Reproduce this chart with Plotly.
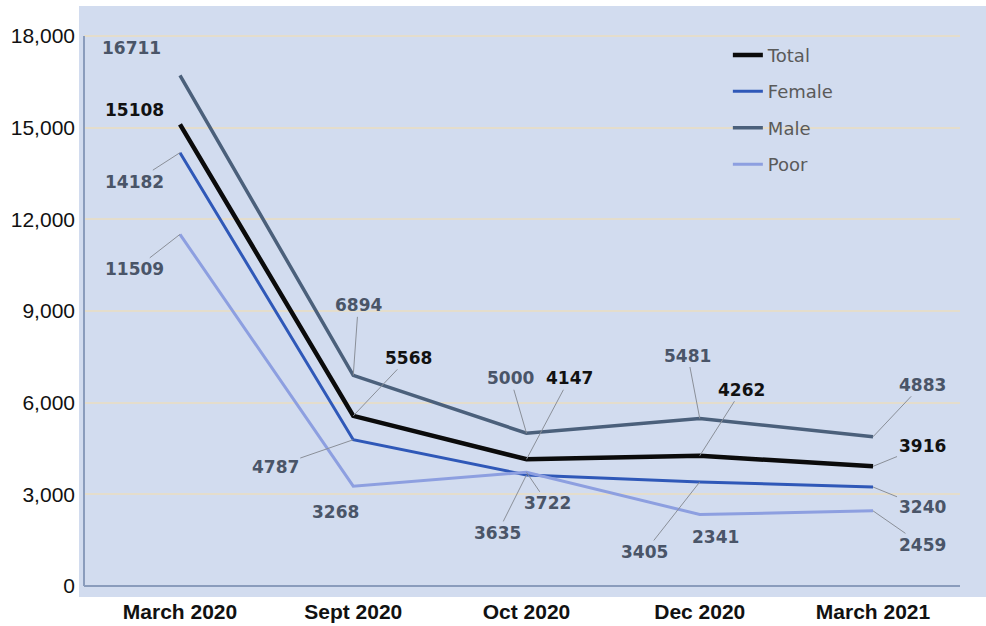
import plotly.graph_objects as go

categories = ["March 2020", "Sept 2020", "Oct 2020", "Dec 2020", "March 2021"]
total = [15108, 5568, 4147, 4262, 3916]
female = [14182, 4787, 3635, 3405, 3240]
male = [16711, 6894, 5000, 5481, 4883]
poor = [11509, 3268, 3722, 2341, 2459]
y_ticks = [0, 3000, 6000, 9000, 12000, 15000, 18000]

series = [
    ("Total", total, "#0b0b0b", 4.5),
    ("Female", female, "#2f58b8", 3),
    ("Male", male, "#4b607b", 3.5),
    ("Poor", poor, "#8d9fe0", 3),
]

# label offsets (pixels, text centre relative to point) and whether a leader line shows
label_offsets = {
    "Total": [(-45, -14, False), (55, -58, True), (43, -81, True), (42, -66, True), (49, -20, True)],
    "Female": [(-45, 29, True), (-78, 27, True), (-29, 58, True), (-55, 70, True), (49, 20, True)],
    "Male": [(-48, -27, False), (5, -70, True), (-16, -55, True), (-12, -63, True), (49, -52, True)],
    "Poor": [(-45, 35, True), (-18, 26, False), (21, 31, True), (16, 23, False), (49, 34, True)],
}

BG = "#d2dcef"
fig = go.Figure()
for i, (name, vals, color, w) in enumerate(series):
    fig.add_trace(go.Scatter(
        x=categories, y=vals, mode="lines", name=name,
        line=dict(color=color, width=w), legendgroup=name,
    ))
    for j, (cat, v) in enumerate(zip(categories, vals)):
        ax, ay, lead = label_offsets[name][j]
        is_total = name == "Total"
        fig.add_annotation(
            x=cat, y=v, text=f"{v}", showarrow=True, ax=ax, ay=ay,
            arrowhead=0, arrowwidth=1,
            arrowcolor="#8a8f98" if lead else "rgba(0,0,0,0)",
            font=dict(family="DejaVu Sans", size=17,
                      color="#111111" if is_total else "#4a5568",
                      weight="bold"),
        )

# background panel and axis lines
fig.add_shape(type="rect", xref="paper", yref="paper", x0=-0.0057, x1=1.03, y0=0, y1=1,
              fillcolor=BG, line=dict(width=0), layer="below")
fig.add_shape(type="line", xref="paper", yref="y", x0=0, x1=0, y0=0, y1=18000,
              line=dict(color="#8a9cbc", width=2))
fig.add_shape(type="line", xref="paper", yref="y", x0=0, x1=1, y0=0, y1=0,
              line=dict(color="#8a9cbc", width=2))

fig.update_layout(
    width=986, height=626,
    margin=dict(l=84, r=26, t=6, b=29),
    paper_bgcolor="white", plot_bgcolor=BG,
    showlegend=True,
    legend=dict(x=0.735, y=0.948, xanchor="left", yanchor="top",
                bgcolor="rgba(0,0,0,0)", tracegroupgap=10, traceorder="grouped",
                font=dict(family="DejaVu Sans", size=18, color="#5a5a5a")),
    xaxis=dict(range=[-0.554, 4.502], showgrid=False, zeroline=False, showline=False,
               automargin=False,
               tickfont=dict(family="Liberation Sans", size=21, color="#111111", weight="bold"),
               ticks=""),
    yaxis=dict(range=[-360, 18982], tickvals=y_ticks, tickformat=",",
               showgrid=True, gridcolor="#e4ddcc", gridwidth=1.5, zeroline=False,
               showline=False, ticklabelstandoff=8, automargin=False,
               tickfont=dict(family="Liberation Sans", size=21, color="#111111")),
)

fig.write_html("out.html")
